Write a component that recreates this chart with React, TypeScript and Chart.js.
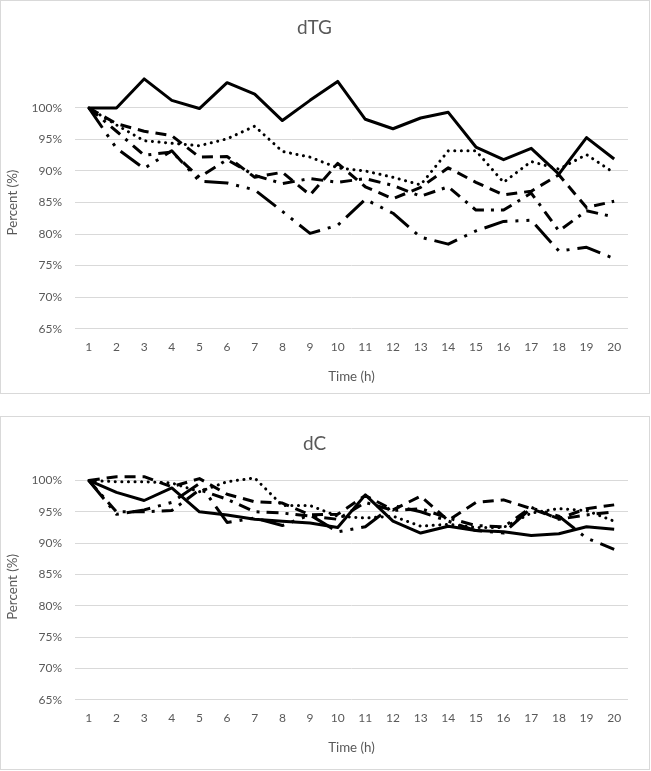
import React, { useEffect, useRef } from 'react';
import { Chart, registerables } from 'chart.js';
Chart.register(...registerables);

const hours = ['1','2','3','4','5','6','7','8','9','10','11','12','13','14','15','16','17','18','19','20'];
const seriesNames = ['S1', 'S2', 'S3', 'S4', 'S5'];
const percentTicks = [65, 70, 75, 80, 85, 90, 95, 100];

// dTG chart values (%)
const dtgSolid = [100, 100, 104.6, 101.2, 99.9, 104.0, 102.2, 98.0, 101.2, 104.2, 98.2, 96.7, 98.4, 99.3, 93.8, 91.8, 93.6, 89.5, 95.3, 91.9];
const dtgDot = [100, 97.3, 94.8, 94.4, 94.0, 95.1, 97.1, 93.1, 92.2, 90.5, 90.0, 89.0, 87.8, 93.2, 93.2, 88.2, 91.5, 90.3, 92.6, 89.7];
const dtgDash = [100, 97.5, 96.3, 95.6, 92.2, 92.3, 89.0, 89.8, 86.2, 91.2, 87.5, 85.6, 87.4, 90.5, 88.2, 86.2, 86.8, 89.4, 84.2, 85.2];
const dtgDashDot = [100, 96.3, 92.5, 93.0, 89.0, 91.8, 89.3, 88.0, 88.8, 88.2, 88.8, 87.7, 86.0, 87.5, 83.8, 83.8, 86.5, 80.5, 83.7, 82.7];
const dtgLongDashDotDot = [100, 93.6, 90.4, 93.2, 88.4, 88.1, 87.0, 83.6, 80.1, 81.4, 85.5, 83.3, 79.5, 78.4, 80.5, 82.0, 82.2, 77.3, 77.9, 76.1];

// dC chart values (%)
const dcSolid = [100, 98.1, 96.8, 98.8, 95.0, 94.5, 93.8, 93.5, 93.2, 92.5, 97.7, 93.5, 91.6, 92.7, 92.0, 91.8, 91.2, 91.5, 92.6, 92.2];
const dcDot = [100, 99.8, 99.8, 99.6, 98.2, 99.8, 100.4, 96.0, 96.0, 94.3, 94.0, 94.3, 92.7, 93.0, 92.5, 92.5, 94.8, 95.5, 95.2, 93.5];
const dcDash = [100, 100.6, 100.6, 99.0, 100.3, 97.8, 96.6, 96.4, 94.5, 94.6, 97.6, 95.3, 97.5, 93.6, 96.5, 96.9, 95.5, 93.9, 95.5, 96.1];
const dcDashDot = [100, 95.0, 95.0, 95.2, 98.5, 97.0, 95.0, 94.8, 94.3, 93.8, 96.5, 95.2, 95.5, 94.0, 92.8, 92.6, 95.7, 93.8, 94.5, 95.0];
const dcLongDashDotDot = [100, 94.6, 95.3, 96.5, 99.5, 93.3, 94.0, 92.8, 94.5, 91.8, 92.6, 96.0, 95.0, 93.5, 92.0, 91.6, 95.6, 94.3, 90.8, 89.0];

const lineStyles = [
  { dash: [] as number[], cap: 'butt' },
  { dash: [0.1, 6.5], cap: 'round' },
  { dash: [11, 7], cap: 'butt' },
  { dash: [12, 7, 3, 7], cap: 'butt' },
  { dash: [24, 8, 3, 8, 3, 8], cap: 'butt' },
];

const FONT = 'Lato, "Liberation Sans", sans-serif';
const GREY = '#595959';

function buildChart(canvas: HTMLCanvasElement, title: string, series: number[][], yMax: number, pad: { titleTop: number; titleBottom: number; bottom: number }) {
  return new Chart(canvas, {
    type: 'line',
    data: {
      labels: hours,
      datasets: series.map((vals, i) => ({
        label: seriesNames[i],
        data: vals,
        borderColor: '#000000',
        borderWidth: 3,
        borderDash: lineStyles[i].dash,
        borderCapStyle: lineStyles[i].cap as any,
        borderJoinStyle: 'round' as any,
        pointRadius: 0,
        fill: false,
        tension: 0,
      })),
    },
    options: {
      responsive: false,
      animation: false,
      layout: { padding: { left: 0, right: 21, top: 0, bottom: pad.bottom } },
      plugins: {
        legend: { display: false },
        tooltip: { enabled: false },
        title: {
          display: true,
          text: title,
          color: GREY,
          font: { family: FONT, size: 19, weight: 'normal' as any },
          padding: { top: pad.titleTop, bottom: pad.titleBottom },
        },
      },
      scales: {
        x: {
          offset: true,
          grid: { display: false, drawTicks: false },
          border: { display: false },
          ticks: { color: GREY, font: { family: FONT, size: 12 }, padding: 11, maxRotation: 0, autoSkip: false },
          title: { display: true, text: 'Time (h)', color: GREY, font: { family: FONT, size: 13.3 }, padding: { top: 4, bottom: 4 } },
        },
        y: {
          min: 65,
          max: yMax,
          afterFit: (scale: any) => { scale.width = 74; },
          afterBuildTicks: (scale: any) => { scale.ticks = percentTicks.map((v) => ({ value: v })); },
          grid: { drawTicks: false, lineWidth: 1, color: '#d9d9d9' },
          border: { display: false },
          ticks: {
            color: GREY,
            padding: 13,
            font: { family: FONT, size: 12 },
            callback: (v: any) => v + '%',
          },
          title: { display: true, text: 'Percent (%)', color: GREY, font: { family: FONT, size: 13.3 }, padding: { top: 4, bottom: 4 } },
        },
      },
    },
  });
}

export default function App() {
  const topRef = useRef<HTMLCanvasElement>(null);
  const botRef = useRef<HTMLCanvasElement>(null);

  useEffect(() => {
    document.body.style.margin = '0';
    const c1 = buildChart(topRef.current!, 'dTG', [dtgSolid, dtgDot, dtgDash, dtgDashDot, dtgLongDashDotDot], 105, { titleTop: 15.6, titleBottom: 37, bottom: 4 });
    const c2 = buildChart(botRef.current!, 'dC', [dcSolid, dcDot, dcDash, dcDashDot, dcLongDashDotDot], 101, { titleTop: 15, titleBottom: 19.4, bottom: 9 });
    return () => { c1.destroy(); c2.destroy(); };
  }, []);

  const box: React.CSSProperties = { position: 'absolute', left: 0, width: 648, border: '1px solid #d9d9d9', background: '#fff' };
  return (
    <div style={{ position: 'relative', width: 651, height: 771, background: '#fff' }}>
      <div style={{ ...box, top: 0, height: 392 }}>
        <canvas ref={topRef} width={648} height={392} style={{ display: 'block' }} />
      </div>
      <div style={{ ...box, top: 416, height: 352 }}>
        <canvas ref={botRef} width={648} height={352} style={{ display: 'block' }} />
      </div>
    </div>
  );
}
